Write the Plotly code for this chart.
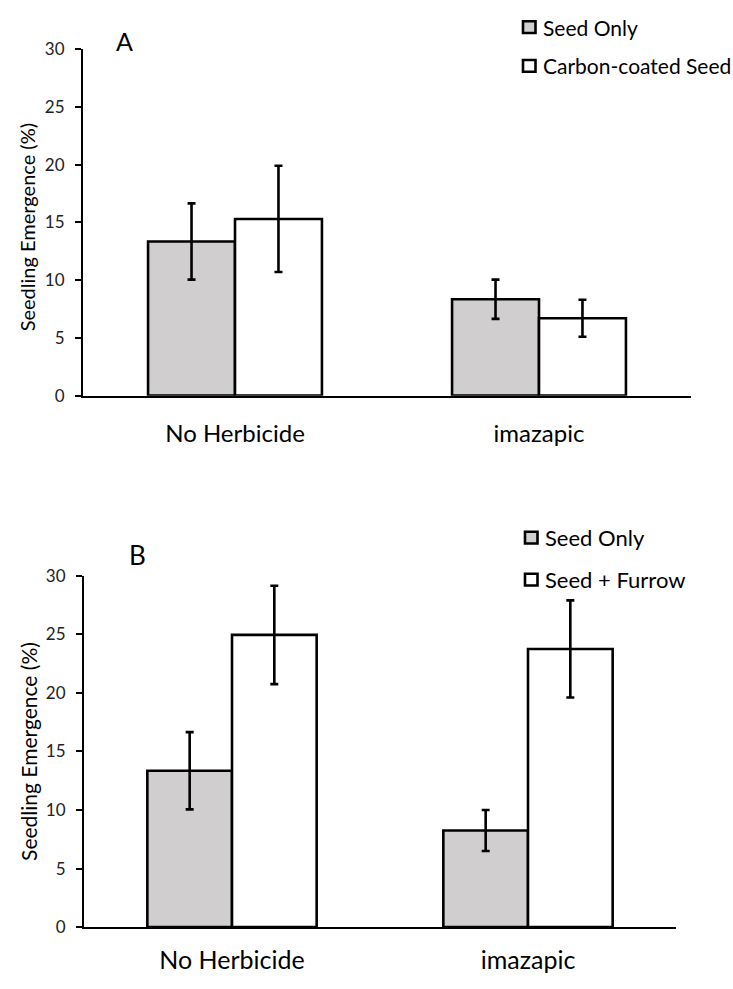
import plotly.graph_objects as go
from plotly.subplots import make_subplots

categories = ["No Herbicide", "imazapic"]

# Panel A
a_seed_only = [13.35, 8.35]
a_seed_only_err = [3.3, 1.7]
a_carbon = [15.3, 6.7]
a_carbon_err = [4.6, 1.6]

# Panel B
b_seed_only = [13.35, 8.25]
b_seed_only_err = [3.3, 1.75]
b_furrow = [24.95, 23.75]
b_furrow_err = [4.2, 4.15]

y_ticks = [0, 5, 10, 15, 20, 25, 30]

GRAY = "#d0cece"
FONT = "Lato"
W, H = 733, 989

fig = make_subplots(rows=2, cols=1)


def add_bar(name, vals, errs, color, row):
    fig.add_trace(
        go.Bar(
            x=categories, y=vals, name=name,
            marker=dict(color=color, line=dict(color="black", width=2.6)),
            error_y=dict(type="data", array=errs, visible=True,
                         color="black", thickness=2.6, width=4),
            showlegend=False,
        ),
        row=row, col=1,
    )


add_bar("Seed Only", a_seed_only, a_seed_only_err, GRAY, 1)
add_bar("Carbon-coated Seed", a_carbon, a_carbon_err, "white", 1)
add_bar("Seed Only", b_seed_only, b_seed_only_err, GRAY, 2)
add_bar("Seed + Furrow", b_furrow, b_furrow_err, "white", 2)

ax_common = dict(showgrid=False, zeroline=False, showline=True,
                 linecolor="black", linewidth=2)

fig.update_xaxes(**ax_common, ticks="")
fig.update_yaxes(**ax_common, range=[0, 30], tickvals=y_ticks, ticks="outside",
                 ticklen=6, tickwidth=2, tickcolor="black", ticklabelstandoff=7,
                 tickfont=dict(family=FONT, size=17, color="#222"))

fig.update_layout(
    xaxis=dict(domain=[83 / W, 691 / W], ticklabelstandoff=16,
               tickfont=dict(family=FONT, size=24, color="black")),
    yaxis=dict(domain=[1 - 393 / H, 1 - 39 / H]),
    xaxis2=dict(domain=[84 / W, 676 / W], ticklabelstandoff=10,
                tickfont=dict(family=FONT, size=25, color="black")),
    yaxis2=dict(domain=[1 - 936 / H, 1 - 577 / H]),
)

fig.update_layout(
    width=W, height=H,
    margin=dict(l=0, r=0, t=0, b=0),
    paper_bgcolor="white", plot_bgcolor="white",
    barmode="group", bargap=0.428, bargroupgap=0,
)

annotations = []
shapes = []


def px_ann(text, x, y, size, xanchor="center", angle=0):
    annotations.append(dict(text=text, x=x / W, y=1 - y / H, xref="paper", yref="paper",
                            showarrow=False, xanchor=xanchor, yanchor="middle",
                            textangle=angle, font=dict(family=FONT, size=size, color="black")))


def legend_item(text, x, y, color, size):
    shapes.append(dict(type="rect", xref="paper", yref="paper",
                       x0=(x + 1.0) / W, x1=(x + 13.5) / W,
                       y0=1 - (y + 6.0) / H, y1=1 - (y - 6.0) / H,
                       fillcolor=color, line=dict(color="black", width=2.6)))
    px_ann(text, x + 19, y, size, xanchor="left")


# Panel labels
px_ann("A", 124, 31, 25)
px_ann("B", 137, 556, 26)

# Y-axis titles
px_ann("Seedling Emergence (%)", 27, 221, 20, angle=-90)
px_ann("Seedling Emergence (%)", 29, 757, 21, angle=-90)

# Legends
legend_item("Seed Only", 522, 16.5, GRAY, 21)
legend_item("Carbon-coated Seed", 522, 56, "white", 21)
legend_item("Seed Only", 524, 538, GRAY, 22)
legend_item("Seed + Furrow", 524, 581, "white", 22)

fig.update_layout(annotations=annotations, shapes=shapes)

fig.write_html("out.html", config={"displayModeBar": False},
               post_script="document.body.style.margin='0px';")
